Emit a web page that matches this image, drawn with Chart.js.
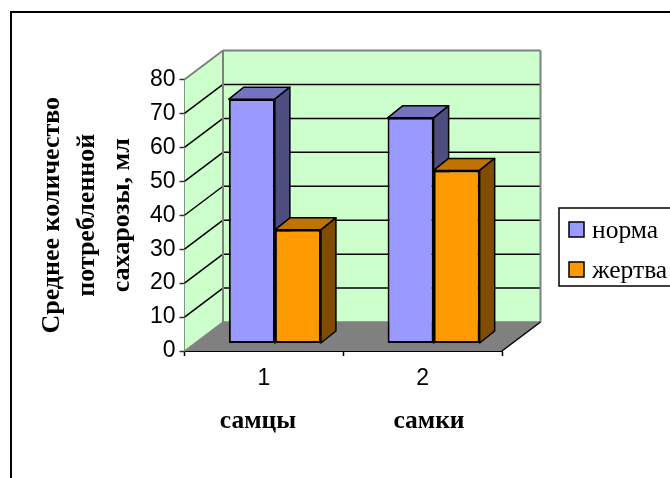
<!DOCTYPE html>
<html>
<head>
<meta charset="utf-8">
<style>
    html, body { margin: 0; padding: 0; background: #fff; overflow: hidden; }
    canvas { display: block; }
</style>
<script src="https://cdn.jsdelivr.net/npm/chart.js@4"></script>
</head>
<body>
<canvas id="chart" width="670" height="478"></canvas>
<script>
const categories = ['1', '2'];
const groupNames = ['самцы', 'самки'];
const seriesNames = ['норма', 'жертва'];
const normaValues = [72, 66.5];
const zhertvaValues = [33.5, 51];
const yTitleLines = ['Среднее количество', 'потребленной', 'сахарозы, мл'];

// depth of the 3D box and of the bars inside it
const WALL_DX = 38.5, WALL_DY = -29;
const BAR_SHIFT_X = 11, BAR_SHIFT_Y = -7.5;
const BAR_DX = 15, BAR_DY = -12;

function poly(ctx, pts, fill, stroke, lw) {
    ctx.beginPath();
    pts.forEach((p, i) => i ? ctx.lineTo(p[0], p[1]) : ctx.moveTo(p[0], p[1]));
    ctx.closePath();
    if (fill) { ctx.fillStyle = fill; ctx.fill(); }
    if (stroke) { ctx.strokeStyle = stroke; ctx.lineWidth = lw; ctx.stroke(); }
}

function line(ctx, x1, y1, x2, y2, color, lw) {
    ctx.beginPath();
    ctx.moveTo(x1, y1);
    ctx.lineTo(x2, y2);
    ctx.strokeStyle = color;
    ctx.lineWidth = lw;
    ctx.stroke();
}

// walls, floor, grid and the visible bar sides
const box3d = {
    id: 'box3d',
    beforeDatasetsDraw(chart) {
        const { ctx, chartArea: a, scales: { y } } = chart;
        const l = a.left, r = a.right, t = a.top, b = a.bottom;
        const dx = WALL_DX, dy = WALL_DY;

        ctx.save();
        poly(ctx, [[l, b], [l + dx, b + dy], [r + dx, b + dy], [r, b]], '#808080');
        poly(ctx, [[l, t], [l + dx, t + dy], [l + dx, b + dy], [l, b]], '#CCFFCC');
        poly(ctx, [[l + dx, t + dy], [r + dx, t + dy], [r + dx, b + dy], [l + dx, b + dy]], '#CCFFCC');

        y.ticks.forEach(tick => {
            if (tick.value === 0 || tick.value === y.max) return;
            const py = y.getPixelForValue(tick.value);
            line(ctx, l, py, l + dx, py + dy, '#000', 1.5);
            line(ctx, l + dx, py + dy, r + dx, py + dy, '#000', 1.5);
        });

        // wall edges
        ctx.lineJoin = 'round';
        line(ctx, l, t, l + dx, t + dy, '#808080', 2);
        line(ctx, l + dx, t + dy, r + dx, t + dy, '#808080', 2);
        line(ctx, r + dx, t + dy, r + dx, b + dy, '#808080', 2);
        line(ctx, l + dx, t + dy, l + dx, b + dy, '#808080', 2);
        line(ctx, l, b, l + dx, b + dy, '#808080', 1.5);
        line(ctx, l + dx, b + dy, r + dx, b + dy, '#808080', 1.5);
        line(ctx, r, b, r + dx, b + dy, '#000', 1.5);

        chart.data.datasets.forEach((ds, i) => {
            chart.getDatasetMeta(i).data.forEach(bar => {
                const p = bar.getProps(['x', 'y', 'base', 'width']);
                const x1 = p.x - p.width / 2 + BAR_SHIFT_X, x2 = p.x + p.width / 2 + BAR_SHIFT_X;
                const top = p.y + BAR_SHIFT_Y, base = p.base + BAR_SHIFT_Y;
                poly(ctx, [[x1, top], [x1 + BAR_DX, top + BAR_DY], [x2 + BAR_DX, top + BAR_DY], [x2, top]], ds.topColor, '#000', 1.5);
                poly(ctx, [[x2, top], [x2 + BAR_DX, top + BAR_DY], [x2 + BAR_DX, base + BAR_DY], [x2, base]], ds.sideColor, '#000', 1.5);
            });
        });
        ctx.restore();

        // bar fronts stand in the middle of the box
        ctx.save();
        ctx.translate(BAR_SHIFT_X, BAR_SHIFT_Y);
    },
    afterDatasetsDraw(chart) {
        chart.ctx.restore();
    },
    afterDraw(chart) {
        const { ctx } = chart;
        ctx.save();

        // outer frame runs off the page on the right and bottom
        line(ctx, 11, 478, 11, 12, '#000', 2);
        line(ctx, 10, 12, 670, 12, '#000', 2);

        // group captions under the axis
        ctx.fillStyle = '#000';
        ctx.font = 'bold 25.5px "Liberation Serif"';
        ctx.textAlign = 'center';
        ctx.textBaseline = 'alphabetic';
        ctx.fillText(groupNames[0], 258, 428);
        ctx.fillText(groupNames[1], 429, 428);

        // legend box
        ctx.fillStyle = '#fff';
        ctx.fillRect(559, 208, 112, 78);
        ctx.strokeStyle = '#000';
        ctx.lineWidth = 1.5;
        ctx.strokeRect(559, 208, 112, 78);
        ctx.font = '25.5px "Liberation Serif"';
        ctx.textAlign = 'left';
        const rows = [230, 270];
        chart.data.datasets.forEach((ds, i) => {
            ctx.fillStyle = ds.backgroundColor;
            ctx.fillRect(569, rows[i] - 8, 15, 15);
            ctx.strokeRect(569, rows[i] - 8, 15, 15);
            ctx.fillStyle = '#000';
            ctx.fillText(seriesNames[i], 592, rows[i] + 8);
        });
        ctx.restore();
    }
};

new Chart(document.getElementById('chart'), {
    type: 'bar',
    data: {
        labels: categories,
        datasets: [
            {
                label: seriesNames[0],
                data: normaValues,
                backgroundColor: '#9999FF',
                sideColor: '#4D4D80',
                topColor: '#7373BF',
                borderColor: '#000',
                borderWidth: 2,
                borderSkipped: false
            },
            {
                label: seriesNames[1],
                data: zhertvaValues,
                backgroundColor: '#FF9900',
                sideColor: '#804D00',
                topColor: '#BF7300',
                borderColor: '#000',
                borderWidth: 2,
                borderSkipped: false
            }
        ]
    },
    plugins: [box3d],
    options: {
        responsive: false,
        animation: false,
        categoryPercentage: 0.58,
        barPercentage: 1,
        layout: { padding: { left: 0, top: 79.5, right: 168, bottom: 0 } },
        plugins: { legend: { display: false }, tooltip: { enabled: false } },
        scales: {
            x: {
                afterFit: s => { s.height = 127; },
                grid: { drawOnChartArea: false, tickLength: 5, color: '#000', tickWidth: 1.5 },
                border: { color: '#000', width: 2 },
                ticks: {
                    color: '#000',
                    padding: 9,
                    maxRotation: 0,
                    font: { family: '"Liberation Sans"', size: 23 }
                }
            },
            y: {
                min: 0,
                max: 80,
                afterFit: s => { s.width = 184.5; },
                grid: { drawOnChartArea: false, tickLength: 5, color: '#303030', tickWidth: 1.5 },
                border: { color: '#303030', width: 1.5 },
                ticks: {
                    stepSize: 10,
                    color: '#000',
                    padding: 4,
                    font: { family: '"Liberation Sans"', size: 23 }
                },
                title: {
                    display: true,
                    text: yTitleLines,
                    color: '#000',
                    padding: { top: 34.5, bottom: 0 },
                    font: { family: '"Liberation Serif"', size: 26, weight: 'bold', lineHeight: 1.35 }
                }
            }
        }
    }
});
</script>
</body>
</html>
